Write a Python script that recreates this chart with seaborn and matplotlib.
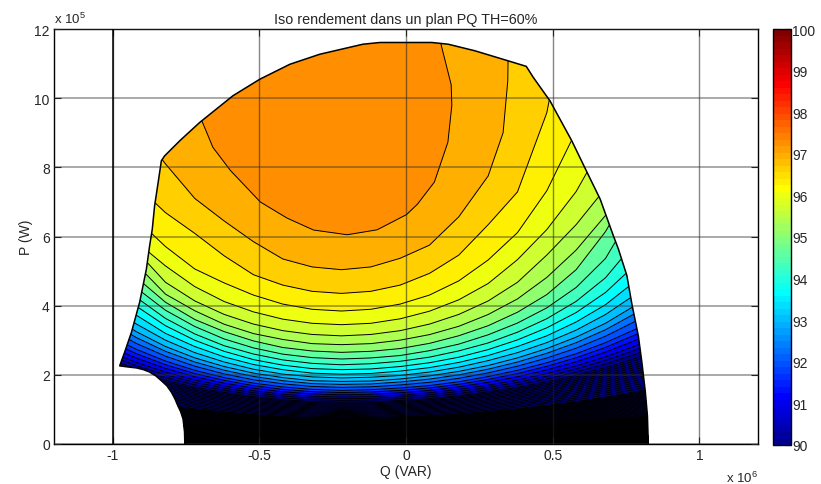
import numpy as np
import matplotlib
matplotlib.use("Agg")
import matplotlib.pyplot as plt
import seaborn as sns
from matplotlib.colors import ListedColormap, Normalize
from matplotlib.path import Path

# ---- data: P (x 10^5 W) where each iso-efficiency line crosses a Q column (x 10^6 VAR)
Q_COLS = [-1.02, -0.92, -0.82, -0.72, -0.62, -0.52, -0.42, -0.32, -0.22, -0.12,
          -0.02, 0.08, 0.18, 0.28, 0.38, 0.48, 0.58, 0.68, 0.78, 0.88]
ETA_ROWS = [0, 50, 75, 85, 90, 91, 92, 93, 93.33, 93.67, 94, 94.33, 94.67, 95,
            95.33, 95.67, 96, 96.33, 96.67, 97, 97.34, 97.6]
P_ETA_0 = [0] * 20
P_ETA_50 = [.25, .22, .20, .18, .16, .15, .14, .13, .13, .13, .14, .14, .15, .16, .18, .19, .21, .23, .26, .28]
P_ETA_75 = [.75, .67, .59, .53, .49, .45, .42, .40, .40, .40, .41, .43, .46, .49, .53, .58, .64, .70, .77, .85]
P_ETA_85 = [1.47, 1.28, 1.14, 1.02, .93, .85, .80, .77, .76, .77, .79, .82, .87, .94, 1.02, 1.12, 1.23, 1.36, 1.51, 1.68]
P_ETA_90 = [2.37, 2.08, 1.84, 1.64, 1.49, 1.37, 1.28, 1.23, 1.21, 1.22, 1.26, 1.31, 1.40, 1.51, 1.64, 1.80, 1.99, 2.21, 2.47, 2.77]
P_ETA_91 = [2.70, 2.36, 2.08, 1.85, 1.68, 1.54, 1.44, 1.38, 1.36, 1.37, 1.41, 1.48, 1.58, 1.70, 1.85, 2.04, 2.26, 2.52, 2.83, 3.19]
P_ETA_92 = [3.16, 2.74, 2.40, 2.13, 1.92, 1.76, 1.65, 1.58, 1.55, 1.57, 1.62, 1.69, 1.80, 1.95, 2.13, 2.35, 2.61, 2.93, 3.31, 3.77]
P_ETA_93 = [3.80, 3.25, 2.82, 2.49, 2.24, 2.05, 1.92, 1.83, 1.81, 1.82, 1.88, 1.97, 2.10, 2.27, 2.49, 2.76, 3.09, 3.49, 4.00, 4.67]
P_ETA_9333 = [4.08, 3.47, 3.00, 2.64, 2.37, 2.16, 2.02, 1.94, 1.91, 1.93, 1.98, 2.08, 2.22, 2.41, 2.64, 2.93, 3.29, 3.74, 4.31, 5.10]
P_ETA_9367 = [4.43, 3.73, 3.20, 2.82, 2.52, 2.30, 2.15, 2.05, 2.02, 2.04, 2.11, 2.21, 2.36, 2.56, 2.82, 3.13, 3.53, 4.03, 4.70, 5.67]
P_ETA_94 = [4.80, 3.99, 3.42, 3.00, 2.68, 2.44, 2.28, 2.18, 2.15, 2.17, 2.24, 2.35, 2.51, 2.73, 3.01, 3.36, 3.80, 4.38, 5.17, 6.48]
P_ETA_9433 = [5.15, 4.24, 3.63, 3.18, 2.84, 2.60, 2.43, 2.33, 2.29, 2.32, 2.39, 2.51, 2.69, 2.92, 3.23, 3.62, 4.12, 4.80, 5.81, 8.04]
P_ETA_9467 = [5.50, 4.52, 3.87, 3.40, 3.04, 2.78, 2.60, 2.50, 2.46, 2.49, 2.56, 2.70, 2.89, 3.16, 3.50, 3.94, 4.53, 5.37, 6.80, 8.80]
P_ETA_95 = [5.90, 4.82, 4.10, 3.60, 3.25, 2.98, 2.79, 2.69, 2.65, 2.68, 2.76, 2.91, 3.13, 3.42, 3.81, 4.32, 5.04, 6.14, 7.60, 9.50]
P_ETA_9533 = [6.10, 5.20, 4.33, 3.85, 3.46, 3.19, 3.02, 2.90, 2.87, 2.90, 3.00, 3.16, 3.40, 3.74, 4.19, 4.81, 5.60, 6.60, 8.00, 10.0]
P_ETA_9567 = [6.40, 5.60, 4.68, 4.14, 3.75, 3.47, 3.28, 3.17, 3.13, 3.17, 3.28, 3.47, 3.75, 4.14, 4.68, 5.47, 6.35, 7.40, 9.00, 11.0]
P_ETA_96 = [6.80, 5.85, 5.15, 4.55, 4.12, 3.82, 3.61, 3.49, 3.45, 3.49, 3.62, 3.84, 4.17, 4.64, 5.33, 6.20, 7.30, 8.80, 10.5, 12.5]
P_ETA_9633 = [7.50, 6.50, 5.70, 5.05, 4.65, 4.30, 4.04, 3.89, 3.84, 3.89, 4.04, 4.30, 4.71, 5.31, 6.10, 7.30, 9.00, 11.0, 13.0, 15.0]
P_ETA_9667 = [8.50, 7.50, 6.70, 6.10, 5.45, 4.90, 4.60, 4.42, 4.36, 4.42, 4.60, 4.94, 5.47, 6.35, 7.30, 9.60, 14.0, 15.0, 16.0, 17.0]
P_ETA_97 = [10.5, 9.20, 8.10, 7.10, 6.45, 5.85, 5.35, 5.12, 5.04, 5.12, 5.37, 5.75, 6.57, 7.75, 9.00, 10.5, 12.5, 14.0, 15.0, 16.0]
Q_ETA_97 = [-1.02, -0.92, -0.82, -0.72, -0.62, -0.52, -0.42, -0.32, -0.22, -0.12,
            -0.02, 0.08, 0.18, 0.28, 0.331, 0.347, 0.35, 0.36, 0.38, 0.40]
P_ETA_9733 = [12.5, 11.2, 10.2, 9.34, 8.62, 7.95, 7.03, 6.56, 6.21, 6.07, 6.21, 6.65, 6.94, 7.57, 8.72, 9.78, 10.35, 11.56, 13.0, 15.0]
Q_ETA_9733 = [-0.90, -0.82, -0.74, -0.693, -0.659, -0.60, -0.498, -0.407, -0.317, -0.202,
              -0.10, 0.0, 0.036, 0.093, 0.139, 0.1525, 0.15, 0.113, 0.09, 0.07]
P_TOP = [16] * 20
Q_TOP = [-1.0, -0.95, -0.9, -0.85, -0.8, -0.75, -0.7, -0.65, -0.6, -0.5,
         -0.4, -0.3, -0.2, -0.1, 0.0, 0.05, 0.1, 0.12, 0.14, 0.16]

# outline of the operating domain
EDGE_Q = [-0.754, -0.755, -0.76, -0.768, -0.778, -0.788, -0.80, -0.815, -0.834, -0.853, -0.874, -0.895, -0.919,
          -0.95, -0.976, -0.959, -0.936, -0.908, -0.885,
          -0.874, -0.865, -0.857, -0.845, -0.834, -0.823, -0.771, -0.703, -0.59, -0.498, -0.396, -0.294,
          -0.147, -0.089, 0.088, 0.144, 0.235, 0.348, 0.41, 0.434, 0.491, 0.565, 0.617, 0.662, 0.707,
          0.724, 0.753, 0.77, 0.792, 0.804, 0.816, 0.823, 0.826]
EDGE_P = [0, 0.35, 0.72, 0.93, 1.11, 1.31, 1.50, 1.68, 1.83, 1.97, 2.08, 2.15, 2.20,
          2.23, 2.26, 2.66, 3.23, 4.10, 5.06,
          5.73, 6.21, 6.89, 7.56, 8.19, 8.33, 8.77, 9.30, 10.07, 10.55, 10.98, 11.27,
          11.56, 11.61, 11.61, 11.56, 11.37, 11.08, 10.92, 10.60, 9.92, 8.77, 7.86, 7.08, 6.02,
          5.64, 4.87, 4.05, 3.13, 2.37, 1.50, 0.82, 0]

X_TICKS = [-1, -0.5, 0, 0.5, 1]
Y_TICKS = [0, 2, 4, 6, 8, 10, 12]
CB_TICKS = [90, 91, 92, 93, 94, 95, 96, 97, 98, 99, 100]

# ---- style
sns.set_theme(style="white")
plt.rcParams["font.family"] = ["Liberation Sans", "DejaVu Sans"]
plt.rcParams["mathtext.default"] = "regular"
TXT = "#262626"

# MATLAB-style 64-step jet
u = np.r_[np.arange(1, 17) / 16, np.ones(15), np.arange(16, 0, -1) / 16]
rgb = np.zeros((64, 3))
for chan, shift in zip(range(3), (16, 0, -16)):
    k = 8 + np.arange(1, 48) + shift
    keep = (k >= 1) & (k <= 64)
    rgb[k[keep] - 1, chan] = u[keep]
jet64 = ListedColormap(rgb)

rows_p = [P_ETA_0, P_ETA_50, P_ETA_75, P_ETA_85, P_ETA_90, P_ETA_91, P_ETA_92, P_ETA_93, P_ETA_9333,
          P_ETA_9367, P_ETA_94, P_ETA_9433, P_ETA_9467, P_ETA_95, P_ETA_9533, P_ETA_9567, P_ETA_96,
          P_ETA_9633, P_ETA_9667, P_ETA_97, P_ETA_9733, P_TOP]
Y = np.array(rows_p, dtype=float)
X = np.tile(np.array(Q_COLS), (len(rows_p), 1))
X[-3] = Q_ETA_97
X[-2] = Q_ETA_9733
X[-1] = Q_TOP
Z = np.tile(np.array(ETA_ROWS, dtype=float)[:, None], (1, len(Q_COLS)))

levels = np.arange(0, 293) / 3.0          # one line every 1/3 %
levels = levels[levels <= 97.5]
levels_fill = np.r_[levels, 98.0]
idx = np.clip(((levels - 90) / 10 * 64).astype(int), 0, 63)
band_colors = [tuple(rgb[i]) for i in idx]

fig = plt.figure(figsize=(8.21, 4.85), dpi=100)
W, H = 821.0, 485.0
ax = fig.add_axes([54 / W, 1 - 445 / H, 704 / W, 415 / H])
ax.set_facecolor("white")

cf = ax.contourf(X, Y, Z, levels=levels_fill, colors=band_colors)
cl = ax.contour(X, Y, Z, levels=levels, colors="black", linewidths=0.7)
clip = Path(np.c_[EDGE_Q, EDGE_P])
cf.set_clip_path(clip, ax.transData)
cl.set_clip_path(clip, ax.transData)
ax.plot(EDGE_Q, EDGE_P, color="black", lw=1.1, zorder=3, solid_joinstyle="round")

ax.set_xlim(-1.2, 1.2)
ax.set_ylim(0, 12)
ax.set_xticks(X_TICKS)
ax.set_xticklabels([str(t) for t in X_TICKS])
ax.set_yticks(Y_TICKS)
ax.yaxis.grid(True, color="#333333", alpha=0.42, lw=1.4, zorder=4)
ax.xaxis.grid(True, color="#222222", alpha=0.55, lw=1.0, zorder=4)
ax.set_axisbelow(False)
ax.axvline(-1, color="black", lw=1.1, zorder=4)
ax.tick_params(direction="in", length=5, width=0.8, top=True, right=True, bottom=True, left=True,
               labelsize=10, labelcolor=TXT, pad=3, color="#222222")
for s in ax.spines.values():
    s.set_visible(True)
    s.set_color("black")
    s.set_linewidth(1.0)
ax.set_title("Iso rendement dans un plan PQ TH=60%", fontsize=10.4, color=TXT, pad=4.5)
ax.set_xlabel("Q (VAR)", fontsize=10, color=TXT, labelpad=1)
ax.set_ylabel("P (W)", fontsize=10, color=TXT, labelpad=1)
ax.text(0, 1.008, "x 10$^{5}$", transform=ax.transAxes, fontsize=9.5, color=TXT, va="bottom", ha="left")
ax.text(1, -0.062, "x 10$^{6}$", transform=ax.transAxes, fontsize=9.5, color=TXT, va="top", ha="right")

cax = fig.add_axes([772.5 / W, 1 - 446 / H, 18.5 / W, 416 / H])
sm = plt.cm.ScalarMappable(norm=Normalize(90, 100), cmap=jet64)
cb = fig.colorbar(sm, cax=cax)
cb.set_ticks(CB_TICKS)
cb.set_ticklabels([str(t) for t in CB_TICKS])
cax.tick_params(direction="in", length=4, width=0.8, left=True, right=True, labelsize=10, labelcolor=TXT,
                pad=1, color="#111111")
cb.outline.set_edgecolor("black")
cb.outline.set_linewidth(1.0)

fig.savefig("out.png", dpi=100)
